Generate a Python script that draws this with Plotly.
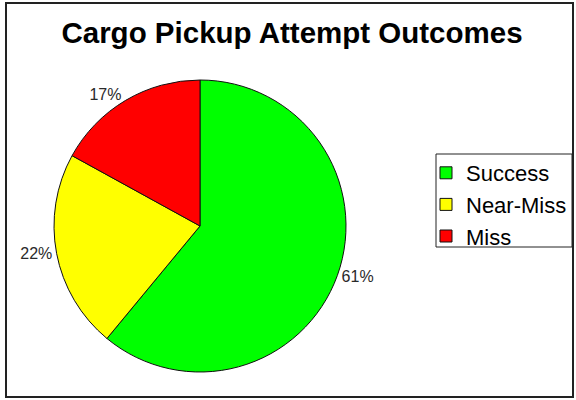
import plotly.graph_objects as go

# Outcome categories and their shares (percent)
outcomes = ['Success', 'Near-Miss', 'Miss']
shares = [61, 22, 17]
slice_colors = ['#00FF00', '#FFFF00', '#FF0000']

W, H = 576, 400

fig = go.Figure()

fig.add_trace(go.Pie(
    labels=outcomes,
    values=shares,
    sort=False,
    direction='clockwise',
    rotation=0,
    marker=dict(colors=slice_colors, line=dict(color='#111111', width=1)),
    textinfo='percent',
    textposition='outside',
    textfont=dict(family='Liberation Sans, Arial, sans-serif', size=16, color='#2a2a2a'),
    domain=dict(x=[54 / W, 346 / W], y=[(H - 372) / H, (H - 80) / H]),
    hoverinfo='label+percent',
))

fig.update_layout(
    width=W,
    height=H,
    margin=dict(l=0, r=0, t=0, b=0),
    paper_bgcolor='white',
    plot_bgcolor='white',
    font=dict(family='Liberation Sans, Arial, sans-serif'),
    title=dict(
        text='<b>Cargo Pickup Attempt Outcomes</b>',
        x=292 / W, xanchor='center',
        y=1 - 33 / H, yanchor='middle',
        font=dict(size=29.5, color='#000000'),
    ),
    showlegend=True,
    legend=dict(
        x=426 / W, xanchor='left',
        y=1 - 152 / H, yanchor='top',
        bgcolor='rgba(0,0,0,0)',
        borderwidth=0,
        font=dict(size=22, color='#000000'),
    ),
    shapes=[
        # outer frame
        dict(type='rect', xref='paper', yref='paper',
             x0=6 / W, x1=573 / W, y0=1 - 397 / H, y1=1 - 3 / H,
             line=dict(color='#222222', width=2), fillcolor='rgba(0,0,0,0)'),
        # legend box
        dict(type='rect', xref='paper', yref='paper',
             x0=436 / W, x1=572 / W, y0=1 - 247 / H, y1=1 - 154 / H,
             line=dict(color='#222222', width=1), fillcolor='rgba(0,0,0,0)'),
    ],
)

fig.write_html("out.html", config={'displayModeBar': False},
               post_script="document.body.style.margin='0';")
